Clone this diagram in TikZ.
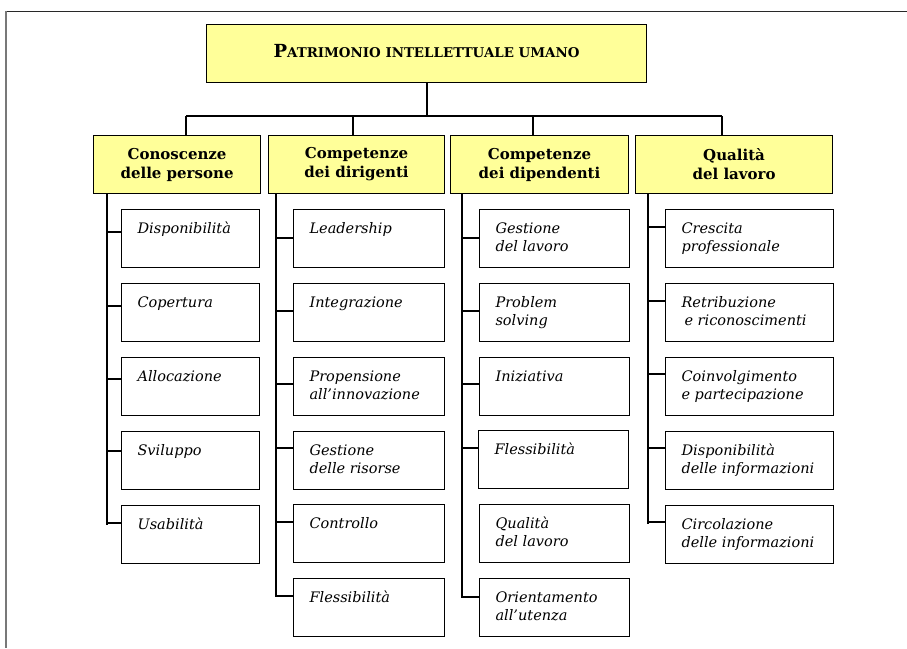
\documentclass[tikz,border=0pt]{standalone}
\usepackage{fontspec}
\setmainfont{DejaVu Serif}
\usetikzlibrary{calc}
\definecolor{catfill}{RGB}{255,255,153}
\definecolor{framegray}{RGB}{120,120,120}
\definecolor{framedark}{RGB}{40,40,40}

% text block of a leaf box: fixed height, first baseline 24pt below the top
\newcommand\leaftxt[2]{\parbox[c][58pt][t]{#1}{\raggedright\leftskip=16pt\rule{0pt}{24pt}#2}}

\tikzset{
  wire/.style={line width=1.1pt, black},
  headbox/.style={draw, line width=1.1pt, fill=catfill, minimum width=440pt,
    minimum height=58pt, inner sep=0pt, anchor=north west},
  catbox/.style={draw, line width=1.1pt, fill=catfill, minimum height=58pt,
    inner sep=0pt, anchor=north west, align=center,
    font=\bfseries\fontsize{15}{19}\selectfont},
  leafbox/.style={draw, line width=1.1pt, fill=white, inner sep=0pt,
    anchor=north west, font=\itshape\fontsize{14.5}{18}\selectfont},
}

\begin{document}
\begin{tikzpicture}[x=1pt,y=-1pt]
\useasboundingbox (0,0) rectangle (907,648);

% outer frame
\draw[line width=1pt, framedark] (907,11) -- (6,11);
\draw[line width=1.2pt, framegray] (6,11) -- (6,648);

% root
\node[headbox] (root) at (206,24)
  {\raisebox{5pt}{\bfseries{\fontsize{18}{20}\selectfont P}{\fontsize{13.4}{20}\selectfont ATRIMONIO INTELLETTUALE UMANO}}};

% categories
\node[catbox, minimum width=167pt] (c1) at (93,135) {Conoscenze\\delle persone};
\node[catbox, minimum width=176pt] (c2) at (268,135) {Competenze\\dei dirigenti};
\node[catbox, minimum width=178pt] (c3) at (450,135) {Competenze\\dei dipendenti};
\node[catbox, minimum width=197pt] (c4) at (635,135) {Qualità\\del lavoro};

% root to categories
\coordinate (s1) at (186,116);
\coordinate (s2) at (353,116);
\coordinate (s3) at (533,116);
\coordinate (s4) at (722,116);
\draw[wire] (root.south -| 427,0) -- (427,116);
\draw[wire] (s1) -- (s4);
\draw[wire] (s1) -- (s1 |- c1.north);
\draw[wire] (s2) -- (s2 |- c2.north);
\draw[wire] (s3) -- (s3 |- c3.north);
\draw[wire] (s4) -- (s4 |- c4.north);

% column 1
\node[leafbox] (l11) at (121,209) {\leaftxt{138pt}{Disponibilità}};
\node[leafbox] (l12) at (121,283) {\leaftxt{138pt}{Copertura}};
\node[leafbox] (l13) at (121,357) {\leaftxt{138pt}{Allocazione}};
\node[leafbox] (l14) at (121,431) {\leaftxt{138pt}{Sviluppo}};
\node[leafbox] (l15) at (121,505) {\leaftxt{138pt}{Usabilità}};
\coordinate (t1) at (107,0);
\coordinate (b11) at ($(l11.north west)+(0,23)$);
\coordinate (b12) at ($(l12.north west)+(0,23)$);
\coordinate (b13) at ($(l13.north west)+(0,22)$);
\coordinate (b14) at ($(l14.north west)+(0,20)$);
\coordinate (b15) at ($(l15.north west)+(0,18)$);
\draw[wire] (t1 |- c1.south) -- ($(t1 |- b15)+(0,2)$);
\foreach \b in {b11,b12,b13,b14,b15} \draw[wire] (t1 |- \b) -- (\b);

% column 2
\node[leafbox] (l21) at (293,209) {\leaftxt{151pt}{Leadership}};
\node[leafbox] (l22) at (293,283) {\leaftxt{151pt}{Integrazione}};
\node[leafbox] (l23) at (293,357) {\leaftxt{151pt}{Propensione\\all’innovazione}};
\node[leafbox] (l24) at (293,431) {\leaftxt{151pt}{Gestione\\delle risorse}};
\node[leafbox] (l25) at (293,504) {\leaftxt{151pt}{Controllo}};
\node[leafbox] (l26) at (293,578) {\leaftxt{151pt}{Flessibilità}};
\coordinate (t2) at (276,0);
\coordinate (b21) at ($(l21.north west)+(0,29)$);
\coordinate (b22) at ($(l22.north west)+(0,28)$);
\coordinate (b23) at ($(l23.north west)+(0,27)$);
\coordinate (b24) at ($(l24.north west)+(0,17)$);
\coordinate (b25) at ($(l25.north west)+(0,18)$);
\coordinate (b26) at ($(l26.north west)+(0,18)$);
\draw[wire] (t2 |- c2.south) |- (b26);
\foreach \b in {b21,b22,b23,b24,b25} \draw[wire] (t2 |- \b) -- (\b);

% column 3
\node[leafbox] (l31) at (479,209) {\leaftxt{150pt}{Gestione\\del lavoro}};
\node[leafbox] (l32) at (479,283) {\leaftxt{150pt}{Problem\\solving}};
\node[leafbox] (l33) at (479,357) {\leaftxt{150pt}{Iniziativa}};
\node[leafbox] (l34) at (478,430) {\leaftxt{150pt}{Flessibilità}};
\node[leafbox] (l35) at (479,504) {\leaftxt{150pt}{Qualità\\del lavoro}};
\node[leafbox] (l36) at (479,578) {\leaftxt{150pt}{Orientamento\\all’utenza}};
\coordinate (t3) at (462,0);
\coordinate (b31) at ($(l31.north west)+(0,29)$);
\coordinate (b32) at ($(l32.north west)+(0,28)$);
\coordinate (b33) at ($(l33.north west)+(0,27)$);
\coordinate (b34) at ($(l34.north west)+(0,18)$);
\coordinate (b36) at ($(l36.north west)+(0,19)$);
\draw[wire] (t3 |- c3.south) |- (b36);
\foreach \b in {b31,b32,b33,b34} \draw[wire] (t3 |- \b) -- (\b);

% column 4
\node[leafbox] (l41) at (665,209) {\leaftxt{168pt}{Crescita\\professionale}};
\node[leafbox] (l42) at (665,283) {\leaftxt{168pt}{Retribuzione\\\hspace*{3pt}e riconoscimenti}};
\node[leafbox] (l43) at (665,357) {\leaftxt{168pt}{Coinvolgimento\\e partecipazione}};
\node[leafbox] (l44) at (665,431) {\leaftxt{168pt}{Disponibilità\\delle informazioni}};
\node[leafbox] (l45) at (665,505) {\leaftxt{168pt}{Circolazione\\delle informazioni}};
\coordinate (t4) at (648,0);
\coordinate (b41) at ($(l41.north west)+(0,18)$);
\coordinate (b42) at ($(l42.north west)+(0,18)$);
\coordinate (b43) at ($(l43.north west)+(0,17)$);
\coordinate (b44) at ($(l44.north west)+(0,17)$);
\coordinate (b45) at ($(l45.north west)+(0,17)$);
\draw[wire] (t4 |- c4.south) -- ($(t4 |- b45)+(0,2)$);
\foreach \b in {b41,b42,b43,b44,b45} \draw[wire] (t4 |- \b) -- (\b);
\end{tikzpicture}
\end{document}
